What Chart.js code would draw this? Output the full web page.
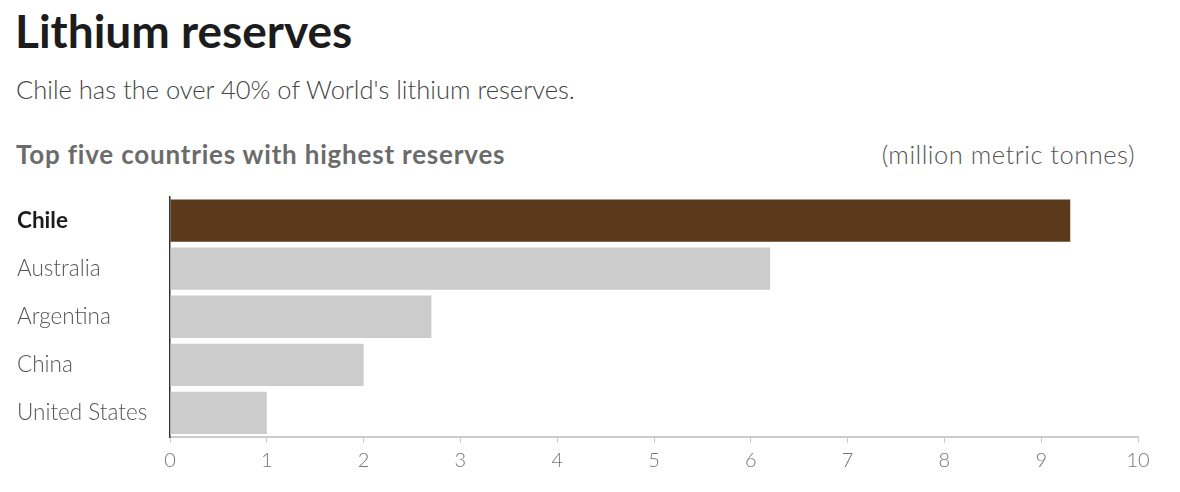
<!DOCTYPE html>
<html>
<head>
<meta charset="utf-8">
<script src="https://cdn.jsdelivr.net/npm/chart.js@4/dist/chart.umd.min.js"></script>
<style>
  body { margin: 0; width: 1180px; height: 492px; background: #fff; font-family: Lato, "Open Sans", sans-serif; position: relative; overflow: hidden; }
  #title { position: absolute; left: 15px; top: 3px; font-size: 46px; font-weight: 700; color: #1c1c1c; }
  #subtitle { position: absolute; left: 16px; top: 74px; font-size: 25.5px; font-weight: 300; color: #444; }
  #heading { position: absolute; left: 16px; top: 138px; font-size: 26px; font-weight: 700; color: #6b6b6b; letter-spacing: 0.8px; }
  #units { position: absolute; right: 45px; top: 139px; font-size: 25.5px; font-weight: 300; color: #555; letter-spacing: 0.5px; }
  #wrap { position: absolute; left: 0; top: 180px; width: 1180px; height: 312px; }
</style>
</head>
<body>
<div id="title">Lithium reserves</div>
<div id="subtitle">Chile has the over 40% of World's lithium reserves.</div>
<div id="heading">Top five countries with highest reserves</div>
<div id="units">(million metric tonnes)</div>
<div id="wrap"><canvas id="chart"></canvas></div>
<script>
// countries and reserves (million metric tonnes)
const countries = ['Chile', 'Australia', 'Argentina', 'China', 'United States'];
const reserves = [9.3, 6.2, 2.7, 2.0, 1.0];
const xTicks = [0, 1, 2, 3, 4, 5, 6, 7, 8, 9, 10];

const barColors = countries.map((c, i) => i === 0 ? '#5b3a1c' : '#cdcccc');

function drawChart() {
  const ctx = document.getElementById('chart').getContext('2d');
  new Chart(ctx, {
    type: 'bar',
    data: {
      labels: countries,
      datasets: [{
        data: reserves,
        backgroundColor: barColors,
        borderWidth: 0,
        barPercentage: 0.88,
        categoryPercentage: 1
      }]
    },
    options: {
      indexAxis: 'y',
      responsive: true,
      maintainAspectRatio: false,
      animation: false,
      layout: { padding: { left: 17, right: 42, top: 4, bottom: 15 } },
      plugins: { legend: { display: false }, tooltip: { enabled: false } },
      scales: {
        x: {
          min: 0,
          max: 10,
          afterBuildTicks: axis => { axis.ticks = xTicks.map(v => ({ value: v })); },
          afterFit: axis => { axis.height = 40; },
          grid: { drawOnChartArea: false, drawTicks: true, tickLength: 6, color: '#cccccc' },
          border: { color: '#cccccc', width: 2 },
          ticks: {
            padding: 6,
            color: '#777',
            font: { family: 'Lato', size: 20, weight: '300' }
          }
        },
        y: {
          afterFit: axis => { axis.width = 153; },
          grid: { display: false },
          border: { color: '#333', width: 1.5 },
          ticks: {
            crossAlign: 'far',
            color: c => c.index === 0 ? '#1c1c1c' : '#555',
            font: c => ({ family: 'Lato', size: 22.5, weight: c.index === 0 ? '700' : '300' })
          }
        }
      }
    }
  });
}

document.addEventListener('DOMContentLoaded', drawChart);
</script>
</body>
</html>
